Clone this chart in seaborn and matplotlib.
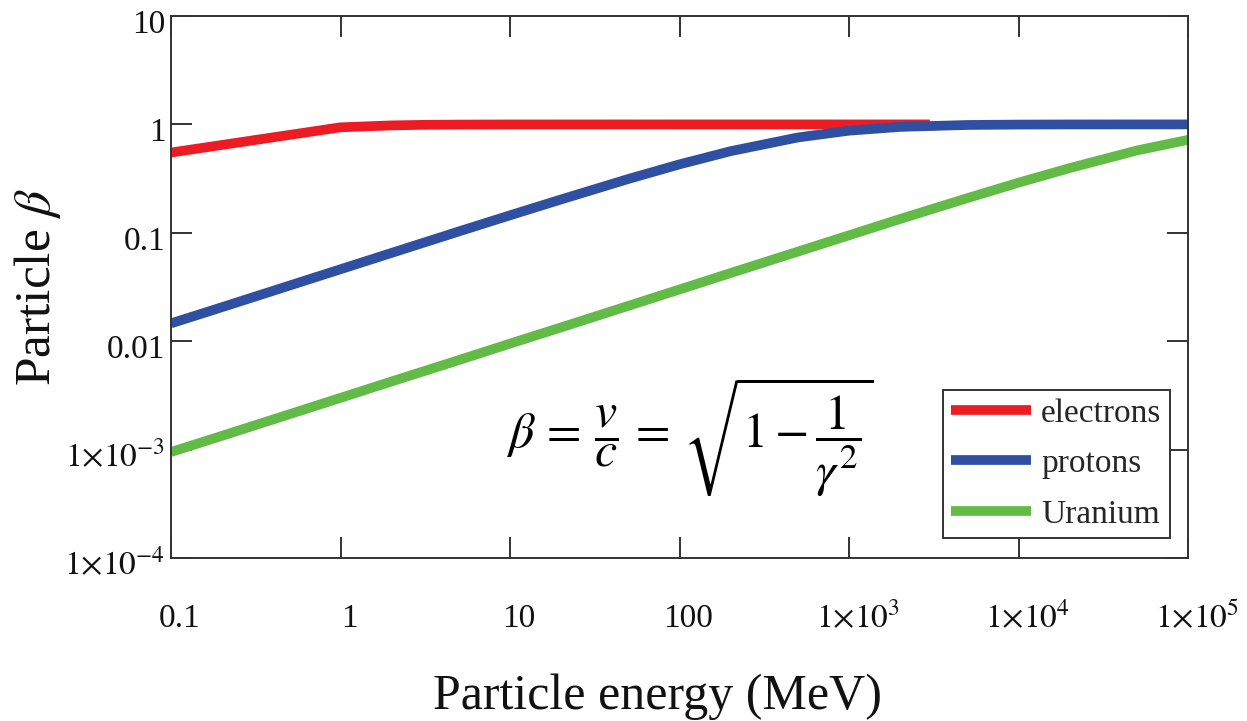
import numpy as np
import pandas as pd
import matplotlib
matplotlib.use("Agg")
import matplotlib.pyplot as plt
import matplotlib.transforms as mtrans
from matplotlib.ticker import FixedLocator, FixedFormatter, NullLocator
import seaborn as sns

# ---- data ----
energy_e = [0.1, 1, 2, 3, 5, 10, 100, 1000, 3000]
beta_e = [0.55, 0.94, 0.979, 0.99, 0.996, 0.999, 1.0, 1.0, 1.0]

energy_p = [0.1, 0.2, 0.5, 1, 2, 5, 10, 20, 50, 100, 200, 500, 1000, 2000,
            5000, 1e4, 2e4, 5e4, 1e5]
beta_p = [0.0146, 0.0206, 0.0326, 0.0461, 0.0652, 0.103, 0.145, 0.203, 0.314,
          0.428, 0.566, 0.758, 0.875, 0.948, 0.988, 0.996, 0.9989, 0.9998, 1.0]

energy_u = [0.1, 0.2, 0.5, 1, 2, 5, 10, 20, 50, 100, 200, 500, 1000, 2000,
            5000, 1e4, 2e4, 5e4, 1e5]
beta_u = [0.00095, 0.00134, 0.00212, 0.0030, 0.00425, 0.0067, 0.0095, 0.0134,
          0.0212, 0.030, 0.0425, 0.0671, 0.0948, 0.134, 0.209, 0.290, 0.395,
          0.575, 0.72]

series_names = ["electrons", "protons", "Uranium"]
series_colors = ["#ED1C24", "#2F4FA2", "#62BB46"]

x_ticks = [0.1, 1, 10, 100, 1e3, 1e4, 1e5]
x_tick_labels = ["0.1", "1", "10", "100", r"$1{\times}10^{3}$",
                 r"$1{\times}10^{4}$", r"$1{\times}10^{5}$"]
y_ticks = [1e-4, 1e-3, 0.01, 0.1, 1, 10]
y_tick_labels = [r"$1{\times}10^{-4}$", r"$1{\times}10^{-3}$", "0.01", "0.1",
                 "1", "10"]

df = pd.concat([
    pd.DataFrame({"energy": energy_e, "beta": beta_e, "particle": "electrons"}),
    pd.DataFrame({"energy": energy_p, "beta": beta_p, "particle": "protons"}),
    pd.DataFrame({"energy": energy_u, "beta": beta_u, "particle": "Uranium"}),
], ignore_index=True)

# ---- style ----
sns.set_style("white")
plt.rcParams["font.family"] = ["Liberation Serif", "DejaVu Serif"]
plt.rcParams["mathtext.fontset"] = "stix"

DPI = 100
fig = plt.figure(figsize=(1247 / DPI, 721 / DPI), dpi=DPI)
ax = fig.add_axes([171 / 1247, 1 - 558 / 721, (1188 - 171) / 1247,
                   (558 - 16) / 721])

sns.lineplot(data=df, x="energy", y="beta", hue="particle",
             hue_order=series_names,
             palette=dict(zip(series_names, series_colors)),
             linewidth=7, ax=ax, sort=True, estimator=None,
             solid_capstyle="butt")

ax.set_xscale("log")
ax.set_yscale("log")
ax.set_xlim(0.1, 1e5)
ax.set_ylim(1e-4, 10)

ax.xaxis.set_major_locator(FixedLocator(x_ticks))
ax.xaxis.set_major_formatter(FixedFormatter(x_tick_labels))
ax.yaxis.set_major_locator(FixedLocator(y_ticks))
ax.yaxis.set_major_formatter(FixedFormatter(y_tick_labels))
ax.xaxis.set_minor_locator(NullLocator())
ax.yaxis.set_minor_locator(NullLocator())

for sp in ax.spines.values():
    sp.set_visible(True)
    sp.set_color("#333333")
    sp.set_linewidth(1.4)

ax.tick_params(axis="both", which="major", direction="in", length=15,
               width=1.3, color="#222222", top=True, right=True,
               bottom=True, left=True,
               labelsize=24, labelcolor="#111111")
ax.tick_params(axis="x", pad=50)
ax.tick_params(axis="y", pad=4)

# axis labels
ax.set_xlabel("Particle energy (MeV)", fontsize=36, color="#111111")
ax.set_ylabel(r"Particle $\beta$", fontsize=37, color="#111111")
ax.xaxis.set_label_coords(0.478, -0.256)
ax.xaxis.label.set_va("center")
ax.yaxis.set_label_coords(-0.131, 0.5)
ax.yaxis.label.set_va("center")

# formula
ax.text(0.51, 0.223,
        r"$\beta\,=\,\dfrac{v}{c}\,=\,\sqrt{1 - \dfrac{1}{\gamma^{2}}}$",
        transform=ax.transAxes, ha="center", va="center", fontsize=36,
        color="black")

# legend
handles, labels = ax.get_legend_handles_labels()
leg = ax.legend(handles, labels, loc="lower right",
                bbox_to_anchor=(0.982, 0.037), borderaxespad=0,
                fontsize=24, frameon=True, fancybox=False, framealpha=1,
                edgecolor="#333333", handlelength=2.4, handletextpad=0.3,
                labelspacing=0.6, borderpad=0.25)
leg.get_frame().set_linewidth(1.4)
for lh in leg.get_lines():
    lh.set_linewidth(7)
    lh.set_solid_capstyle("butt")

# tick label alignment tweaks
fig.canvas.draw()
dx = mtrans.ScaledTranslation(9 / DPI, 0, fig.dpi_scale_trans)
for lbl in ax.get_xticklabels():
    lbl.set_va("baseline")
    lbl.set_transform(lbl.get_transform() + dx)
dy = mtrans.ScaledTranslation(0, -17 / DPI, fig.dpi_scale_trans)
for lbl in ax.get_yticklabels():
    lbl.set_va("baseline")
    lbl.set_transform(lbl.get_transform() + dy)

fig.savefig("out.png", dpi=DPI)
